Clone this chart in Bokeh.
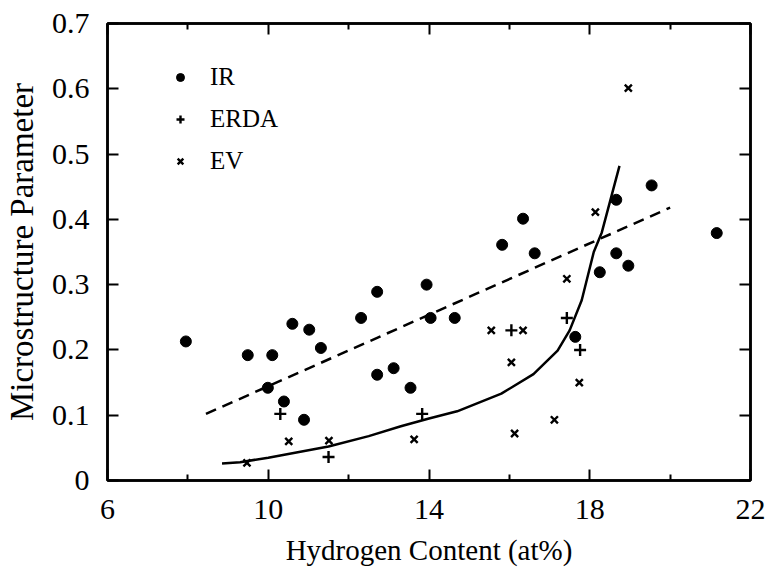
from bokeh.plotting import figure
from bokeh.models import (FixedTicker, LinearAxis, Legend, LegendItem, Range1d,
                          CustomLabelingPolicy)
from bokeh.embed import file_html
from bokeh.resources import INLINE

# ---- data ----
ir_x = [7.95, 9.49, 10.1, 10.6, 11.02, 11.31, 9.99, 10.39, 10.89, 12.31, 12.71, 13.94,
        14.04, 12.71, 13.12, 13.54, 14.64, 16.63, 18.66, 18.25, 18.96, 17.64, 16.34,
        18.66, 19.54, 21.16, 15.82]
ir_y = [0.213, 0.192, 0.192, 0.240, 0.231, 0.203, 0.142, 0.121, 0.093, 0.249, 0.289, 0.300,
        0.249, 0.162, 0.172, 0.142, 0.249, 0.348, 0.348, 0.319, 0.329, 0.220, 0.401,
        0.430, 0.452, 0.379, 0.361]

erda_x = [10.3, 11.5, 13.83, 17.43, 17.76, 16.05]
erda_y = [0.102, 0.036, 0.102, 0.249, 0.200, 0.230]

ev_x = [9.47, 10.51, 11.51, 13.63, 17.43, 15.55, 16.34, 16.05, 17.74, 17.12, 16.13, 18.96, 18.14]
ev_y = [0.027, 0.060, 0.061, 0.063, 0.309, 0.230, 0.230, 0.181, 0.150, 0.093, 0.072, 0.601, 0.411]

dash_x = [8.45, 20.0]
dash_y = [0.102, 0.418]

curve_x = [8.85, 9.3, 10.0, 11.5, 12.5, 13.3, 14.0, 14.7, 15.8, 16.6, 17.2, 17.5, 17.8, 18.1, 18.3, 18.74]
curve_y = [0.026, 0.028, 0.035, 0.052, 0.068, 0.083, 0.095, 0.106, 0.133, 0.163, 0.199, 0.230, 0.276, 0.350, 0.380, 0.482]

x_ticks = [6, 10, 14, 18, 22]
x_minor = [8, 12, 16, 20]
y_ticks = [0, 0.1, 0.2, 0.3, 0.4, 0.5, 0.6, 0.7]
y_labels = ["0", "0.1", "0.2", "0.3", "0.4", "0.5", "0.6", "0.7"]

FONT = "Liberation Serif"

p = figure(width=773, height=568, output_backend="svg", toolbar_location=None,
           x_range=Range1d(6, 22), y_range=Range1d(0, 0.7),
           min_border_left=105, min_border_right=23, min_border_top=23, min_border_bottom=88)
p.grid.visible = False
p.outline_line_color = "black"
p.outline_line_width = 2.5
p.background_fill_color = "white"
p.border_fill_color = "white"

ticker_x = FixedTicker(ticks=x_ticks, minor_ticks=x_minor)
ticker_y = FixedTicker(ticks=y_ticks)

def style(ax, labels=True):
    ax.axis_line_color = "black"
    ax.axis_line_width = 2.5
    ax.major_tick_in = 11
    ax.major_tick_out = 0
    ax.minor_tick_in = 6
    ax.minor_tick_out = 0
    ax.major_tick_line_width = 2
    ax.minor_tick_line_width = 2
    ax.major_tick_line_color = "black"
    ax.minor_tick_line_color = "black"
    ax.major_label_text_font = FONT
    ax.major_label_text_color = "black"
    ax.axis_label_text_font = FONT
    ax.axis_label_text_font_style = "normal"
    ax.axis_label_text_color = "black"
    if labels:
        ax.major_label_text_font_size = "30px"
    else:
        ax.major_label_text_font_size = "0px"
        ax.major_label_policy = CustomLabelingPolicy(code="return []")
        ax.major_label_standoff = 0

xa = p.xaxis[0]
xa.ticker = ticker_x
style(xa)
xa.major_label_standoff = 19
xa.axis_label = "Hydrogen Content (at%)"
xa.axis_label_text_font_size = "29px"
xa.axis_label_standoff = 12

ya = p.yaxis[0]
ya.ticker = ticker_y
style(ya)
ya.minor_tick_in = 0
ya.major_label_overrides = {t: l for t, l in zip(y_ticks, y_labels)}
ya.major_label_standoff = 18
ya.axis_label = "Microstructure Parameter"
ya.axis_label_text_font_size = "33px"
ya.axis_label_standoff = 9

top = LinearAxis(ticker=FixedTicker(ticks=x_ticks, minor_ticks=x_minor))
style(top, labels=False)
p.add_layout(top, "above")
right = LinearAxis(ticker=FixedTicker(ticks=y_ticks))
style(right, labels=False)
right.minor_tick_in = 0
p.add_layout(right, "right")

r_ir = p.scatter(ir_x, ir_y, marker="circle", size=11, color="black")
r_erda = p.scatter(erda_x, erda_y, marker="cross", size=12, line_color="black", line_width=2.4)
r_ev = p.scatter(ev_x, ev_y, marker="x", size=10, line_color="black", line_width=2.4)

p.line(dash_x, dash_y, line_color="black", line_width=2.5, line_dash="11 7")
p.line(curve_x, curve_y, line_color="black", line_width=2.5)

legend = Legend(items=[LegendItem(label="IR", renderers=[r_ir]),
                       LegendItem(label="ERDA", renderers=[r_erda]),
                       LegendItem(label="EV", renderers=[r_ev])],
                location=(63, 305))
legend.background_fill_alpha = 0
legend.border_line_alpha = 0
legend.label_text_font = FONT
legend.label_text_font_size = "25px"
legend.label_text_color = "black"
legend.glyph_width = 20
legend.glyph_height = 20
legend.label_height = 20
legend.spacing = 14
legend.padding = 0
legend.margin = 0
legend.label_standoff = 20
p.add_layout(legend)

open("out.html", "w").write(file_html(p, INLINE))
